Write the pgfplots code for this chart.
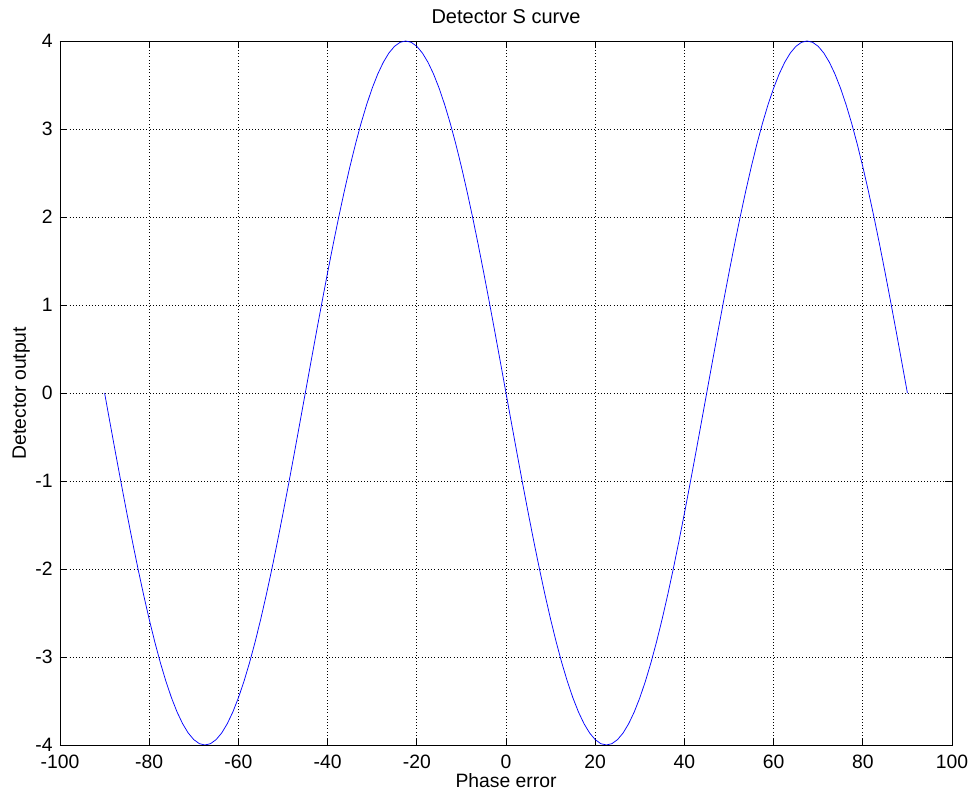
\documentclass[border=0pt]{standalone}
\usepackage{pgfplots}
\pgfplotsset{compat=1.18}
\usepackage{fontspec}
\setmainfont{Liberation Sans}
\pgfplotstableread{
x y
-90 0
-88.75 -0.3486
-87.5 -0.6946
-86.25 -1.0353
-85 -1.3681
-83.75 -1.6905
-82.5 -2
-81.25 -2.2943
-80 -2.5712
-78.75 -2.8284
-77.5 -3.0642
-76.25 -3.2766
-75 -3.4641
-73.75 -3.6252
-72.5 -3.7588
-71.25 -3.8637
-70 -3.9392
-68.75 -3.9848
-67.5 -4
-66.25 -3.9848
-65 -3.9392
-63.75 -3.8637
-62.5 -3.7588
-61.25 -3.6252
-60 -3.4641
-58.75 -3.2766
-57.5 -3.0642
-56.25 -2.8284
-55 -2.5712
-53.75 -2.2943
-52.5 -2
-51.25 -1.6905
-50 -1.3681
-48.75 -1.0353
-47.5 -0.6946
-46.25 -0.3486
-45 0
-43.75 0.3486
-42.5 0.6946
-41.25 1.0353
-40 1.3681
-38.75 1.6905
-37.5 2
-36.25 2.2943
-35 2.5712
-33.75 2.8284
-32.5 3.0642
-31.25 3.2766
-30 3.4641
-28.75 3.6252
-27.5 3.7588
-26.25 3.8637
-25 3.9392
-23.75 3.9848
-22.5 4
-21.25 3.9848
-20 3.9392
-18.75 3.8637
-17.5 3.7588
-16.25 3.6252
-15 3.4641
-13.75 3.2766
-12.5 3.0642
-11.25 2.8284
-10 2.5712
-8.75 2.2943
-7.5 2
-6.25 1.6905
-5 1.3681
-3.75 1.0353
-2.5 0.6946
-1.25 0.3486
0 0
1.25 -0.3486
2.5 -0.6946
3.75 -1.0353
5 -1.3681
6.25 -1.6905
7.5 -2
8.75 -2.2943
10 -2.5712
11.25 -2.8284
12.5 -3.0642
13.75 -3.2766
15 -3.4641
16.25 -3.6252
17.5 -3.7588
18.75 -3.8637
20 -3.9392
21.25 -3.9848
22.5 -4
23.75 -3.9848
25 -3.9392
26.25 -3.8637
27.5 -3.7588
28.75 -3.6252
30 -3.4641
31.25 -3.2766
32.5 -3.0642
33.75 -2.8284
35 -2.5712
36.25 -2.2943
37.5 -2
38.75 -1.6905
40 -1.3681
41.25 -1.0353
42.5 -0.6946
43.75 -0.3486
45 0
46.25 0.3486
47.5 0.6946
48.75 1.0353
50 1.3681
51.25 1.6905
52.5 2
53.75 2.2943
55 2.5712
56.25 2.8284
57.5 3.0642
58.75 3.2766
60 3.4641
61.25 3.6252
62.5 3.7588
63.75 3.8637
65 3.9392
66.25 3.9848
67.5 4
68.75 3.9848
70 3.9392
71.25 3.8637
72.5 3.7588
73.75 3.6252
75 3.4641
76.25 3.2766
77.5 3.0642
78.75 2.8284
80 2.5712
81.25 2.2943
82.5 2
83.75 1.6905
85 1.3681
86.25 1.0353
87.5 0.6946
88.75 0.3486
90 0
}\scurve
\begin{document}
\begin{tikzpicture}
\begin{axis}[
  scale only axis,
  width=669pt, height=528pt,
  xmin=-100, xmax=100, ymin=-4, ymax=4,
  xtick={-100,-80,...,100},
  ytick={-4,-3,...,4},
  tick align=inside,
  major tick length=5pt,
  grid=major,
  major grid style={dotted, black, line width=0.5pt},
  axis line style={black, line width=0.5pt},
  every tick/.style={black, line width=0.5pt},
  /pgf/number format/assume math mode=true,
  tick label style={font=\fontsize{14.5}{16}\selectfont},
  xticklabel style={anchor=center, yshift=-13pt},
  yticklabel style={xshift=-2pt},
  label style={font=\fontsize{14.5}{16}\selectfont},
  every axis title shift=0pt,
  title style={font=\fontsize{15}{17}\selectfont, at={(axis description cs:0.5,1)}, anchor=center, yshift=18pt},
  title={Detector S curve},
  xlabel={Phase error},
  ylabel={Detector output},
  xlabel style={at={(axis description cs:0.5,0)}, anchor=center, yshift=-27pt},
  ylabel style={at={(axis description cs:0,0.5)}, anchor=center, yshift=29pt},
]
\addplot[blue, line width=0.55pt] table[x=x, y=y] {\scurve};
\end{axis}
\pgfresetboundingbox
\path (current axis.south west) ++(-45pt,-41.25pt) coordinate (bbA);
\path (current axis.north east) ++(18pt,30.75pt) coordinate (bbB);
\useasboundingbox (bbA) rectangle (bbB);
\end{tikzpicture}
\end{document}
